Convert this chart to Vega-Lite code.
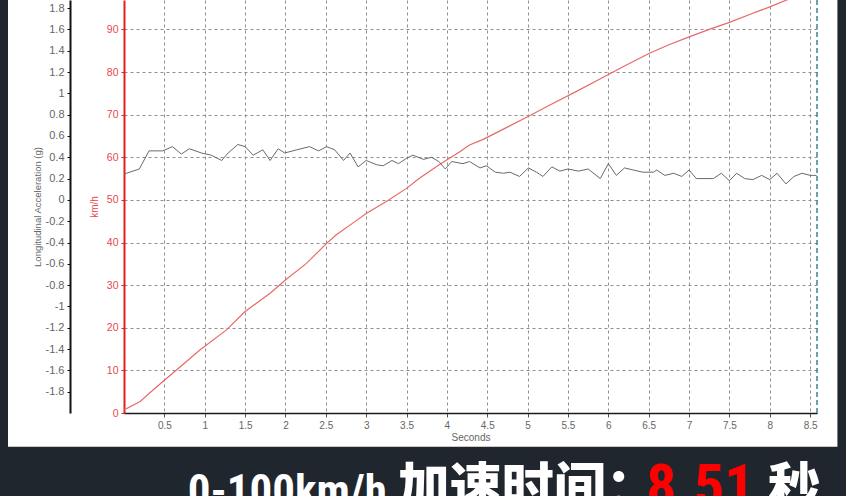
{
  "$schema": "https://vega.github.io/schema/vega-lite/v6.json",
  "width": 693,
  "height": 413,
  "autosize": {"type": "none"},
  "padding": {"left": 124, "top": 0, "right": 29, "bottom": 83},
  "background": "white",
  "config": {"view": {"stroke": null}, "font": "Liberation Sans"},
  "datasets": {
    "speed": [
      {"t": 0, "kmh": 0.7}, {"t": 0.2, "kmh": 2.7}, {"t": 0.36, "kmh": 5.4}, {"t": 0.5, "kmh": 7.7},
      {"t": 0.65, "kmh": 10.1}, {"t": 0.94, "kmh": 14.8}, {"t": 1.27, "kmh": 19.5}, {"t": 1.5, "kmh": 23.8},
      {"t": 1.81, "kmh": 28.1}, {"t": 2.0, "kmh": 31.2}, {"t": 2.26, "kmh": 35.1}, {"t": 2.51, "kmh": 39.8},
      {"t": 2.63, "kmh": 41.8}, {"t": 2.86, "kmh": 44.9}, {"t": 3.0, "kmh": 46.8}, {"t": 3.25, "kmh": 49.6},
      {"t": 3.5, "kmh": 52.7}, {"t": 3.66, "kmh": 55.1}, {"t": 3.9, "kmh": 58.2}, {"t": 4.16, "kmh": 61.3},
      {"t": 4.28, "kmh": 62.9}, {"t": 4.45, "kmh": 64.2}, {"t": 4.7, "kmh": 66.6}, {"t": 5.0, "kmh": 69.5},
      {"t": 5.3, "kmh": 72.5}, {"t": 5.6, "kmh": 75.4}, {"t": 5.89, "kmh": 78.3}, {"t": 6.2, "kmh": 81.4},
      {"t": 6.51, "kmh": 84.4}, {"t": 6.75, "kmh": 86.4}, {"t": 7.01, "kmh": 88.3}, {"t": 7.25, "kmh": 90.0},
      {"t": 7.51, "kmh": 91.7}, {"t": 7.75, "kmh": 93.5}, {"t": 8.0, "kmh": 95.3}, {"t": 8.21, "kmh": 96.9},
      {"t": 8.51, "kmh": 99.2}
    ],
    "accel": [
      {"t": 0.0, "g": 0.24}, {"t": 0.03, "g": 0.25}, {"t": 0.19, "g": 0.29}, {"t": 0.31, "g": 0.46},
      {"t": 0.48, "g": 0.46}, {"t": 0.6, "g": 0.5}, {"t": 0.71, "g": 0.43}, {"t": 0.81, "g": 0.48},
      {"t": 0.96, "g": 0.44}, {"t": 1.08, "g": 0.42}, {"t": 1.21, "g": 0.37}, {"t": 1.29, "g": 0.44},
      {"t": 1.41, "g": 0.52}, {"t": 1.5, "g": 0.5}, {"t": 1.6, "g": 0.42}, {"t": 1.72, "g": 0.47},
      {"t": 1.81, "g": 0.37}, {"t": 1.91, "g": 0.48}, {"t": 1.99, "g": 0.44}, {"t": 2.14, "g": 0.47},
      {"t": 2.3, "g": 0.5}, {"t": 2.41, "g": 0.46}, {"t": 2.51, "g": 0.5}, {"t": 2.61, "g": 0.47},
      {"t": 2.72, "g": 0.37}, {"t": 2.8, "g": 0.44}, {"t": 2.9, "g": 0.31}, {"t": 3.0, "g": 0.37},
      {"t": 3.13, "g": 0.33}, {"t": 3.21, "g": 0.32}, {"t": 3.32, "g": 0.37}, {"t": 3.4, "g": 0.34},
      {"t": 3.5, "g": 0.39}, {"t": 3.58, "g": 0.42}, {"t": 3.71, "g": 0.38}, {"t": 3.81, "g": 0.4},
      {"t": 3.9, "g": 0.36}, {"t": 3.98, "g": 0.29}, {"t": 4.06, "g": 0.36}, {"t": 4.2, "g": 0.34},
      {"t": 4.28, "g": 0.36}, {"t": 4.41, "g": 0.3}, {"t": 4.49, "g": 0.32}, {"t": 4.6, "g": 0.26},
      {"t": 4.7, "g": 0.25}, {"t": 4.78, "g": 0.26}, {"t": 4.9, "g": 0.22}, {"t": 5.01, "g": 0.3},
      {"t": 5.11, "g": 0.26}, {"t": 5.19, "g": 0.22}, {"t": 5.3, "g": 0.31}, {"t": 5.4, "g": 0.27},
      {"t": 5.5, "g": 0.29}, {"t": 5.63, "g": 0.27}, {"t": 5.75, "g": 0.29}, {"t": 5.9, "g": 0.2},
      {"t": 6.0, "g": 0.34}, {"t": 6.1, "g": 0.23}, {"t": 6.2, "g": 0.3}, {"t": 6.31, "g": 0.28},
      {"t": 6.43, "g": 0.26}, {"t": 6.56, "g": 0.26}, {"t": 6.6, "g": 0.28}, {"t": 6.7, "g": 0.23},
      {"t": 6.81, "g": 0.25}, {"t": 6.91, "g": 0.22}, {"t": 7.0, "g": 0.28}, {"t": 7.09, "g": 0.2},
      {"t": 7.3, "g": 0.2}, {"t": 7.4, "g": 0.25}, {"t": 7.5, "g": 0.18}, {"t": 7.59, "g": 0.25},
      {"t": 7.69, "g": 0.2}, {"t": 7.79, "g": 0.19}, {"t": 7.9, "g": 0.23}, {"t": 8.0, "g": 0.19},
      {"t": 8.09, "g": 0.25}, {"t": 8.2, "g": 0.15}, {"t": 8.3, "g": 0.22}, {"t": 8.4, "g": 0.25},
      {"t": 8.5, "g": 0.23}, {"t": 8.58, "g": 0.23}
    ]
  },
  "layer": [
    {
      "layer": [
        {
          "data": {"values": [{"part": "bottom band"}]},
          "mark": {"type": "rect", "color": "#20262e"},
          "encoding": {
            "x": {"datum": -1.7, "type": "quantitative"},
            "x2": {"datum": 9.2},
            "y": {"datum": -7.9, "type": "quantitative"},
            "y2": {"datum": -30}
          }
        },
        {
          "data": {"values": [{"part": "left strip"}]},
          "mark": {"type": "rect", "color": "#20262e"},
          "encoding": {
            "x": {"datum": -1.7, "type": "quantitative"},
            "x2": {"datum": -1.437},
            "y": {"datum": -8, "type": "quantitative"},
            "y2": {"datum": 100}
          }
        },
        {
          "data": {"values": [{"part": "right strip"}]},
          "mark": {"type": "rect", "color": "#20262e"},
          "encoding": {
            "x": {"datum": 8.838, "type": "quantitative"},
            "x2": {"datum": 9.2},
            "y": {"datum": -8, "type": "quantitative"},
            "y2": {"datum": 100}
          }
        },
        {
          "data": {"values": [{"part": "end"}]},
          "mark": {"type": "rule", "color": "#3f8593", "strokeWidth": 1.5, "strokeDash": [5, 3]},
          "encoding": {
            "x": {"datum": 8.585, "type": "quantitative"}
          }
        },
        {
          "data": {"name": "speed"},
          "mark": {"type": "line", "color": "#e8686a", "strokeWidth": 1.2, "clip": true},
          "encoding": {
            "x": {
              "field": "t", "type": "quantitative",
              "scale": {"domain": [0, 8.585], "nice": false, "zero": false},
              "axis": {
                "values": [0.5, 1, 1.5, 2, 2.5, 3, 3.5, 4, 4.5, 5, 5.5, 6, 6.5, 7, 7.5, 8, 8.5],
                "labelExpr": "'' + round(datum.value * 10) / 10",
                "title": "Seconds",
                "grid": true, "gridColor": "#8f8f8f", "gridDash": [3, 3], "gridWidth": 1, "gridOpacity": 1,
                "domainColor": "#1a1a1a", "domainWidth": 1.5,
                "tickColor": "#555555", "tickSize": 4,
                "labelColor": "#666666", "labelFontSize": 10, "labelPadding": 3, "labelFlush": false,
                "titleColor": "#666666", "titleFontSize": 10, "titleFontWeight": "normal", "titlePadding": 2
              }
            },
            "y": {
              "field": "kmh", "type": "quantitative",
              "scale": {"domain": [0, 96.9], "nice": false, "zero": false},
              "axis": {
                "values": [0, 5, 10, 15, 20, 25, 30, 35, 40, 45, 50, 55, 60, 65, 70, 75, 80, 85, 90, 95],
                "title": "km/h",
                "grid": true, "gridColor": "#8f8f8f", "gridDash": [3, 3], "gridWidth": 1, "gridOpacity": 1,
                "domainColor": "#e02020", "domainWidth": 2,
                "tickColor": "#e02020", "tickSize": 3,
                "labelColor": "#e8484a", "labelFontSize": 10.5, "labelPadding": 3, "labelFlush": false,
                "titleColor": "#e8484a", "titleFontSize": 10, "titleFontWeight": "normal", "titlePadding": 7
              }
            }
          }
        },
        {
          "data": {"values": [{"label": "0-100km/h"}]},
          "mark": {"type": "text", "color": "white", "font": "Roboto Condensed, DejaVu Sans Condensed, Liberation Sans", "fontWeight": "bold", "fontSize": 45, "align": "left", "baseline": "alphabetic"},
          "encoding": {
            "x": {"datum": 0.79, "type": "quantitative"},
            "y": {"datum": -21.8, "type": "quantitative"},
            "text": {"field": "label"}
          }
        },
        {
          "data": {"values": [{"label": "加速时间："}]},
          "mark": {"type": "text", "color": "white", "font": "Noto Sans CJK SC", "fontWeight": 900, "fontSize": 52, "align": "left", "baseline": "alphabetic"},
          "encoding": {
            "x": {"datum": 3.39, "type": "quantitative"},
            "y": {"datum": -21.8, "type": "quantitative"},
            "text": {"field": "label"}
          }
        },
        {
          "data": {"values": [{"label": "8.51"}]},
          "mark": {"type": "text", "color": "#ff0000", "font": "Roboto Condensed, DejaVu Sans Condensed, Liberation Sans", "fontWeight": "bold", "fontSize": 60, "align": "left", "baseline": "alphabetic"},
          "encoding": {
            "x": {"datum": 6.47, "type": "quantitative"},
            "y": {"datum": -21.8, "type": "quantitative"},
            "text": {"field": "label"}
          }
        },
        {
          "data": {"values": [{"label": "秒"}]},
          "mark": {"type": "text", "color": "white", "font": "Noto Sans CJK SC", "fontWeight": 900, "fontSize": 52, "align": "left", "baseline": "alphabetic"},
          "encoding": {
            "x": {"datum": 7.98, "type": "quantitative"},
            "y": {"datum": -21.8, "type": "quantitative"},
            "text": {"field": "label"}
          }
        }
      ]
    },
    {
      "data": {"name": "accel"},
      "mark": {"type": "line", "color": "#6a6a6a", "strokeWidth": 1},
      "encoding": {
        "x": {"field": "t", "type": "quantitative"},
        "y": {
          "field": "g", "type": "quantitative",
          "scale": {"domain": [-2, 1.876], "nice": false, "zero": false},
          "axis": {
            "orient": "left", "offset": 54,
            "values": [-1.8, -1.6, -1.4, -1.2, -1, -0.8, -0.6, -0.4, -0.2, 0, 0.2, 0.4, 0.6, 0.8, 1, 1.2, 1.4, 1.6, 1.8],
            "labelExpr": "'' + round(datum.value * 10) / 10",
            "title": "Longitudinal Acceleration (g)",
            "grid": false,
            "domainColor": "#111111", "domainWidth": 2,
            "tickColor": "#111111", "tickSize": 3,
            "labelColor": "#666666", "labelFontSize": 11, "labelPadding": 3, "labelFlush": false,
            "titleColor": "#666666", "titleFontSize": 9.5, "titleFontWeight": "normal", "titlePadding": 3
          }
        }
      }
    }
  ],
  "resolve": {"scale": {"y": "independent"}}
}
